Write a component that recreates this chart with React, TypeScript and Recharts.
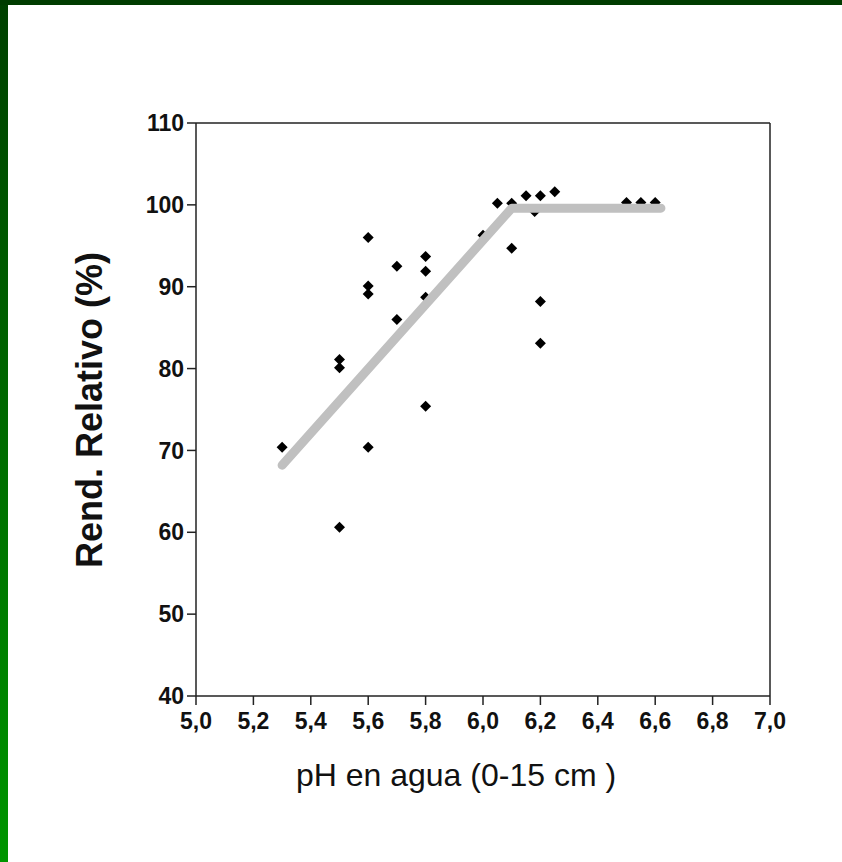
import React from 'react';
import { ComposedChart, Scatter, XAxis, YAxis, ReferenceLine } from 'recharts';

const phValues = [5.3, 5.5, 5.5, 5.5, 5.6, 5.6, 5.6, 5.6, 5.7, 5.7, 5.8, 5.8, 5.8, 5.8, 6.0, 6.05, 6.1, 6.1, 6.15, 6.2, 6.18, 6.2, 6.2, 6.25, 6.5, 6.55, 6.6];
const yieldValues = [70.4, 81.1, 80.1, 60.6, 96.0, 90.1, 89.1, 70.4, 92.5, 86.0, 93.7, 91.9, 88.7, 75.4, 96.3, 100.2, 100.2, 94.7, 101.1, 101.1, 99.2, 88.2, 83.1, 101.6, 100.3, 100.3, 100.3];

const fitX = [5.3, 6.1, 6.62];
const fitY = [68.2, 99.6, 99.6];

const xTicks = [5.0, 5.2, 5.4, 5.6, 5.8, 6.0, 6.2, 6.4, 6.6, 6.8, 7.0];
const yTicks = [40, 50, 60, 70, 80, 90, 100, 110];

const points = phValues.map((x, i) => ({ x, y: yieldValues[i] }));
const fitLine = fitX.map((x, i) => ({ x, y: fitY[i] }));

const FONT = '"Liberation Sans", Arial, sans-serif';
const NARROW = '"Liberation Sans Narrow", "Liberation Sans", Arial, sans-serif';

const Diamond = (props: any) => {
  const { cx, cy } = props;
  if (cx == null || cy == null) return null;
  const r = 5.5;
  return <polygon points={`${cx},${cy - r} ${cx + r},${cy} ${cx},${cy + r} ${cx - r},${cy}`} fill="#000" />;
};

const Nothing = () => null;

export default function App() {
  return (
    <div style={{ position: 'absolute', left: 0, top: 0, width: 842, height: 862, background: '#fff', overflow: 'hidden' }}>
      <div style={{ position: 'absolute', left: 0, top: 0, width: 8, height: 862, background: 'linear-gradient(#004000, #009600)' }} />
      <div style={{ position: 'absolute', left: 0, top: 0, width: 842, height: 5, background: '#003c00' }} />
      <div style={{ position: 'absolute', left: 0, top: 0 }}>
        <ComposedChart width={842} height={862} margin={{ top: 123, right: 72, bottom: 116, left: 136 }}>
          <XAxis
            type="number"
            dataKey="x"
            domain={[5, 7]}
            ticks={xTicks}
            interval={0}
            tickFormatter={(v: number) => v.toFixed(1).replace('.', ',')}
            stroke="#222"
            strokeWidth={1.5}
            tickSize={9}
            tickMargin={8}
            height={50}
            tick={{ fill: '#111', fontSize: 23, fontWeight: 'bold', fontFamily: NARROW }}
            label={{
              content: () => (
                <text x={456} y={786} textAnchor="middle" fontSize={32} fontFamily={FONT} fill="#111">
                  pH en agua (0-15 cm )
                </text>
              ),
            }}
          />
          <YAxis
            type="number"
            dataKey="y"
            domain={[40, 110]}
            ticks={yTicks}
            interval={0}
            stroke="#222"
            strokeWidth={1.5}
            tickSize={9}
            tickMargin={3}
            width={60}
            tick={{ fill: '#111', fontSize: 23, fontWeight: 'bold', fontFamily: NARROW }}
            label={{
              content: () => (
                <text
                  x={89}
                  y={410}
                  transform="rotate(-90 89 410)"
                  textAnchor="middle"
                  dominantBaseline="central"
                  fontSize={36}
                  fontWeight="bold"
                  fontFamily={FONT}
                  fill="#111"
                >
                  Rend. Relativo (%)
                </text>
              ),
            }}
          />
          <ReferenceLine y={110} stroke="#222" strokeWidth={1.5} />
          <ReferenceLine x={7} stroke="#222" strokeWidth={1.5} />
          <Scatter data={points} shape={<Diamond />} isAnimationActive={false} />
          <Scatter
            data={fitLine}
            shape={<Nothing />}
            line={{ stroke: '#c0c0c0', strokeWidth: 9, strokeLinecap: 'round', strokeLinejoin: 'round' } as any}
            isAnimationActive={false}
          />
        </ComposedChart>
      </div>
    </div>
  );
}
